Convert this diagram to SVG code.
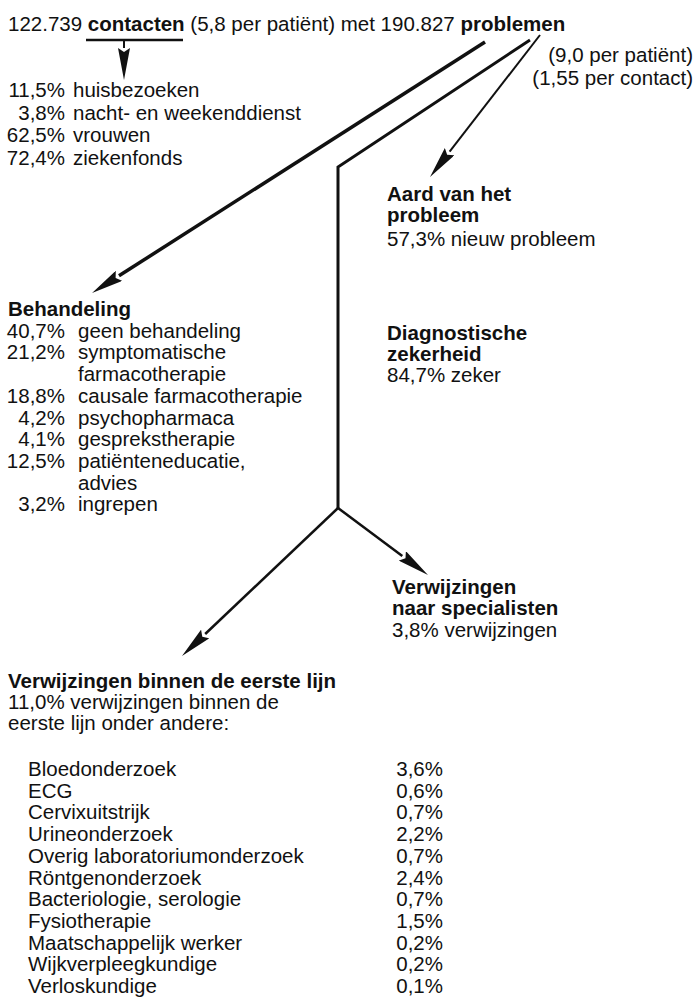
<svg xmlns="http://www.w3.org/2000/svg" width="696" height="998" viewBox="0 0 696 998">
<style>
text{font-family:"Liberation Sans",Arial,Helvetica,sans-serif;font-size:20.5px;fill:#111}
.b{font-weight:bold}
.e{text-anchor:end}
.ln{fill:none;stroke:#111;stroke-linecap:butt;stroke-linejoin:miter}
</style>
<defs>
<marker id="ah" viewBox="0 -6 32 12" markerWidth="32" markerHeight="12" refX="0" refY="0" markerUnits="userSpaceOnUse" orient="auto">
<path d="M0,-6 L32,0 L0,6 L4,0 z" fill="#111"/>
</marker>
</defs>
<rect width="696" height="998" fill="#fff"/>

<g id="connectors">
<line class="ln" x1="86" y1="40" x2="183" y2="40" stroke-width="2.5"/>
<line class="ln" x1="124" y1="40" x2="124" y2="48" stroke-width="2" marker-end="url(#ah)"/>
<line class="ln" x1="485" y1="42" x2="119" y2="275.8" stroke-width="3.5" marker-end="url(#ah)"/>
<polyline class="ln" points="530,40 338,167 338,508" stroke-width="3"/>
<line class="ln" x1="540" y1="35" x2="449.6" y2="151.7" stroke-width="2" marker-end="url(#ah)"/>
<line class="ln" x1="338" y1="508" x2="205.2" y2="634" stroke-width="2.5" marker-end="url(#ah)"/>
<line class="ln" x1="338" y1="508" x2="402.3" y2="555.9" stroke-width="2.5" marker-end="url(#ah)"/>
</g>

<g id="contacten">
<text x="8" y="31">122.739 <tspan class="b">contacten</tspan> (5,8 per patiënt) met 190.827 <tspan class="b">problemen</tspan></text>
<text class="e" x="693" y="62">(9,0 per patiënt)</text>
<text class="e" x="693" y="84.5">(1,55 per contact)</text>
</g>

<g id="contact-kenmerken">
<text class="e" x="65" y="97">11,5%</text><text x="73" y="97">huisbezoeken</text>
<text class="e" x="65" y="119.5">3,8%</text><text x="73" y="119.5">nacht- en weekenddienst</text>
<text class="e" x="65" y="142">62,5%</text><text x="73" y="142">vrouwen</text>
<text class="e" x="65" y="164.5">72,4%</text><text x="73" y="164.5">ziekenfonds</text>
</g>

<g id="aard">
<text class="b" x="387" y="201">Aard van het</text>
<text class="b" x="387" y="222">probleem</text>
<text x="387" y="246">57,3% nieuw probleem</text>
</g>

<g id="behandeling">
<text class="b" x="8" y="316">Behandeling</text>
<text class="e" x="65" y="337.7">40,7%</text><text x="78" y="337.7">geen behandeling</text>
<text class="e" x="65" y="359.4">21,2%</text><text x="78" y="359.4">symptomatische</text>
<text x="78" y="381">farmacotherapie</text>
<text class="e" x="65" y="402.8">18,8%</text><text x="78" y="402.8">causale farmacotherapie</text>
<text class="e" x="65" y="424.5">4,2%</text><text x="78" y="424.5">psychopharmaca</text>
<text class="e" x="65" y="446.2">4,1%</text><text x="78" y="446.2">gesprekstherapie</text>
<text class="e" x="65" y="467.9">12,5%</text><text x="78" y="467.9">patiënteneducatie,</text>
<text x="78" y="489.6">advies</text>
<text class="e" x="65" y="511.3">3,2%</text><text x="78" y="511.3">ingrepen</text>
</g>

<g id="diagnostische-zekerheid">
<text class="b" x="387" y="340">Diagnostische</text>
<text class="b" x="387" y="361">zekerheid</text>
<text x="387" y="382">84,7% zeker</text>
</g>

<g id="verwijzingen-specialisten">
<text class="b" x="392" y="594">Verwijzingen</text>
<text class="b" x="392" y="615">naar specialisten</text>
<text x="392" y="637">3,8% verwijzingen</text>
</g>

<g id="verwijzingen-eerste-lijn">
<text class="b" x="8" y="688">Verwijzingen binnen de eerste lijn</text>
<text x="8" y="709">11,0% verwijzingen binnen de</text>
<text x="8" y="730">eerste lijn onder andere:</text>
<text x="28" y="776">Bloedonderzoek</text><text class="e" x="443" y="776">3,6%</text>
<text x="28" y="797.7">ECG</text><text class="e" x="443" y="797.7">0,6%</text>
<text x="28" y="819.4">Cervixuitstrijk</text><text class="e" x="443" y="819.4">0,7%</text>
<text x="28" y="841.1">Urineonderzoek</text><text class="e" x="443" y="841.1">2,2%</text>
<text x="28" y="862.8">Overig laboratoriumonderzoek</text><text class="e" x="443" y="862.8">0,7%</text>
<text x="28" y="884.5">Röntgenonderzoek</text><text class="e" x="443" y="884.5">2,4%</text>
<text x="28" y="906.2">Bacteriologie, serologie</text><text class="e" x="443" y="906.2">0,7%</text>
<text x="28" y="927.9">Fysiotherapie</text><text class="e" x="443" y="927.9">1,5%</text>
<text x="28" y="949.6">Maatschappelijk werker</text><text class="e" x="443" y="949.6">0,2%</text>
<text x="28" y="971.3">Wijkverpleegkundige</text><text class="e" x="443" y="971.3">0,2%</text>
<text x="28" y="993">Verloskundige</text><text class="e" x="443" y="993">0,1%</text>
</g>
</svg>
